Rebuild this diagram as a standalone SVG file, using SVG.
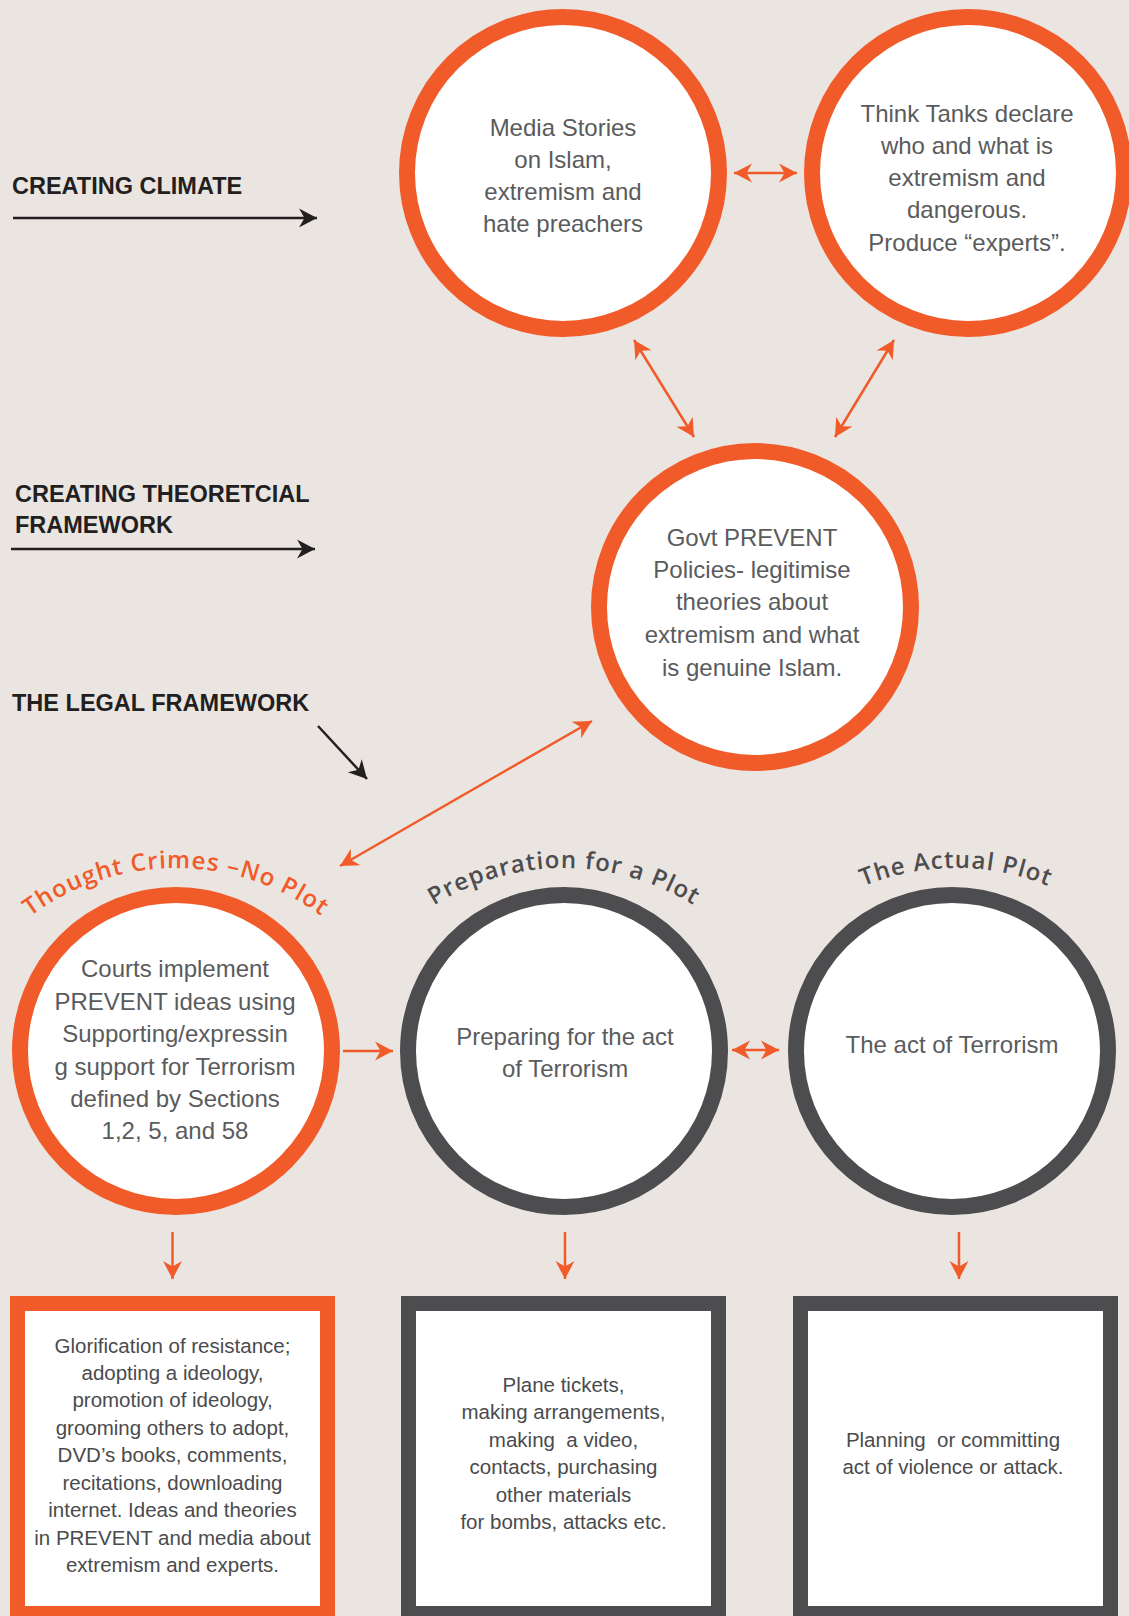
<svg xmlns="http://www.w3.org/2000/svg" width="1129" height="1616" viewBox="0 0 1129 1616">
<style>
.bg{fill:#eae5e1}
.ringO{fill:#fff;stroke:#f15a29;stroke-width:16}
.ringG{fill:#fff;stroke:#4d4d4f;stroke-width:16}
.boxO{fill:#fff;stroke:#f15a29;stroke-width:15}
.boxG{fill:#fff;stroke:#4d4d4f;stroke-width:15}
.ct{font-family:"Liberation Sans",Arial,sans-serif;font-size:24px;fill:#5a5b5d;text-anchor:middle}
.bt{font-family:"Liberation Sans",Arial,sans-serif;font-size:20.5px;fill:#4a4b4d;text-anchor:middle;white-space:pre}
.lab{font-family:"Liberation Sans",Arial,sans-serif;font-weight:bold;font-size:23.5px;fill:#231f20}
.arc{font-family:"Open Sans","Liberation Sans",sans-serif;font-weight:600;font-size:24px;letter-spacing:1.1px}
.oc{fill:none;stroke:#f15a29;stroke-width:2.5}
.bc{fill:none;stroke:#231f20;stroke-width:2.5}
</style>
<defs>
<marker id="ao" markerUnits="userSpaceOnUse" markerWidth="24" markerHeight="24" viewBox="-20 -12 24 24" refX="0" refY="0" orient="auto-start-reverse">
<path d="M0,0 L-18,-9.5 L-12.5,0 L-18,9.5 Z" fill="#f15a29"/>
</marker>
<marker id="ab" markerUnits="userSpaceOnUse" markerWidth="24" markerHeight="24" viewBox="-20 -12 24 24" refX="0" refY="0" orient="auto">
<path d="M0,0 L-18,-9.5 L-12.5,0 L-18,9.5 Z" fill="#231f20"/>
</marker>
<path id="arc1" d="M-68,1112 A244,244 0 0 1 420,1112"/>
<path id="arc2" d="M320,1112 A244,244 0 0 1 808,1112"/>
<path id="arc3" d="M712,1112 A244,244 0 0 1 1200,1112"/>
</defs>
<rect class="bg" x="0" y="0" width="1129" height="1616"/>

<g id="labels">
<text class="lab" x="12" y="194">CREATING CLIMATE</text>
<text class="lab" x="15" y="502">CREATING THEORETCIAL</text>
<text class="lab" x="15" y="533">FRAMEWORK</text>
<text class="lab" x="12" y="711">THE LEGAL FRAMEWORK</text>
</g>

<g id="connectors">
<line class="bc" x1="13" y1="218" x2="317" y2="218" marker-end="url(#ab)"/>
<line class="bc" x1="11" y1="549" x2="315" y2="549" marker-end="url(#ab)"/>
<line class="bc" x1="318" y1="726" x2="367" y2="779" marker-end="url(#ab)"/>
<line class="oc" x1="734" y1="173" x2="797" y2="173" marker-start="url(#ao)" marker-end="url(#ao)"/>
<line class="oc" x1="634" y1="340" x2="694" y2="437" marker-start="url(#ao)" marker-end="url(#ao)"/>
<line class="oc" x1="894" y1="340" x2="835" y2="437" marker-start="url(#ao)" marker-end="url(#ao)"/>
<line class="oc" x1="592" y1="721" x2="340" y2="866" marker-start="url(#ao)" marker-end="url(#ao)"/>
<line class="oc" x1="343" y1="1051" x2="393" y2="1051" marker-end="url(#ao)"/>
<line class="oc" x1="732" y1="1050" x2="779" y2="1050" marker-start="url(#ao)" marker-end="url(#ao)"/>
<line class="oc" x1="172.5" y1="1232" x2="172.5" y2="1279" marker-end="url(#ao)"/>
<line class="oc" x1="565" y1="1232" x2="565" y2="1279" marker-end="url(#ao)"/>
<line class="oc" x1="959" y1="1232" x2="959" y2="1279" marker-end="url(#ao)"/>
</g>

<g id="media">
<circle class="ringO" cx="563" cy="173" r="156"/>
<text class="ct"><tspan x="563" y="136">Media Stories</tspan><tspan x="563" y="168">on Islam,</tspan><tspan x="563" y="200">extremism and</tspan><tspan x="563" y="232">hate preachers</tspan></text>
</g>

<g id="thinktanks">
<circle class="ringO" cx="968" cy="173" r="156"/>
<text class="ct"><tspan x="967" y="122">Think Tanks declare</tspan><tspan x="967" y="154">who and what is</tspan><tspan x="967" y="186">extremism and</tspan><tspan x="967" y="218">dangerous.</tspan><tspan x="967" y="251">Produce “experts”.</tspan></text>
</g>

<g id="govt">
<circle class="ringO" cx="755" cy="607" r="156"/>
<text class="ct"><tspan x="752" y="546">Govt PREVENT</tspan><tspan x="752" y="578">Policies- legitimise</tspan><tspan x="752" y="610">theories about</tspan><tspan x="752" y="643">extremism and what</tspan><tspan x="752" y="676">is genuine Islam.</tspan></text>
</g>

<g id="thought">
<text class="arc" fill="#f15a29"><textPath href="#arc1" startOffset="50%" text-anchor="middle">Thought Crimes –No Plot</textPath></text>
<circle class="ringO" cx="176" cy="1051" r="156"/>
<text class="ct"><tspan x="175" y="977">Courts implement</tspan><tspan x="175" y="1010">PREVENT ideas using</tspan><tspan x="175" y="1042">Supporting/expressin</tspan><tspan x="175" y="1075">g support for Terrorism</tspan><tspan x="175" y="1107">defined by Sections</tspan><tspan x="175" y="1139">1,2, 5, and 58</tspan></text>
</g>

<g id="preparation">
<text class="arc" fill="#4d4d4f"><textPath href="#arc2" startOffset="50%" text-anchor="middle">Preparation for a Plot</textPath></text>
<circle class="ringG" cx="564" cy="1051" r="156"/>
<text class="ct"><tspan x="565" y="1045">Preparing for the act</tspan><tspan x="565" y="1077">of Terrorism</tspan></text>
</g>

<g id="actual">
<text class="arc" fill="#4d4d4f"><textPath href="#arc3" startOffset="50%" text-anchor="middle">The Actual Plot</textPath></text>
<circle class="ringG" cx="952" cy="1051" r="156"/>
<text class="ct"><tspan x="952" y="1053">The act of Terrorism</tspan></text>
</g>

<g id="box-thought">
<rect class="boxO" x="17.5" y="1303.5" width="310" height="310"/>
<text class="bt"><tspan x="172.5" y="1353">Glorification of resistance;</tspan><tspan x="172.5" y="1380">adopting a ideology,</tspan><tspan x="172.5" y="1407">promotion of ideology,</tspan><tspan x="172.5" y="1435">grooming others to adopt,</tspan><tspan x="172.5" y="1462">DVD’s books, comments,</tspan><tspan x="172.5" y="1490">recitations, downloading</tspan><tspan x="172.5" y="1517">internet. Ideas and theories</tspan><tspan x="172.5" y="1545">in PREVENT and media about</tspan><tspan x="172.5" y="1572">extremism and experts.</tspan></text>
</g>

<g id="box-preparation">
<rect class="boxG" x="408.5" y="1303.5" width="310" height="310"/>
<text class="bt"><tspan x="563.5" y="1392">Plane tickets,</tspan><tspan x="563.5" y="1419">making arrangements,</tspan><tspan x="563.5" y="1447">making  a video,</tspan><tspan x="563.5" y="1474">contacts, purchasing</tspan><tspan x="563.5" y="1502">other materials</tspan><tspan x="563.5" y="1529">for bombs, attacks etc.</tspan></text>
</g>

<g id="box-actual">
<rect class="boxG" x="800.5" y="1303.5" width="310" height="310"/>
<text class="bt"><tspan x="953" y="1447">Planning  or committing</tspan><tspan x="953" y="1474">act of violence or attack.</tspan></text>
</g>
</svg>
